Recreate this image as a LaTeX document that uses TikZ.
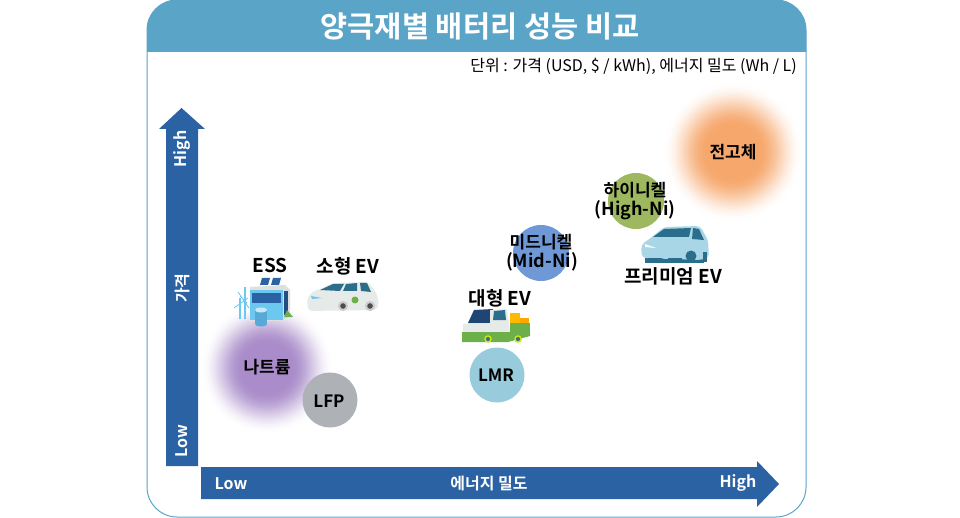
\documentclass[tikz,border=0pt]{standalone}
\usepackage{fontspec}
\setmainfont{Noto Sans CJK KR}[BoldFont={Noto Sans CJK KR Bold}]
\definecolor{headblue}{HTML}{5AA4C8}
\definecolor{arrowblue}{HTML}{2B62A4}
\definecolor{natrium}{HTML}{A98CC9}
\definecolor{solidst}{HTML}{F6A76C}
\definecolor{highni}{HTML}{9DB85E}
\definecolor{midni}{HTML}{6F98D6}
\definecolor{lmrblue}{HTML}{98CBDC}
\definecolor{lfpgray}{HTML}{AEB1B6}
\definecolor{glass}{HTML}{2B6E8C}
\definecolor{skyblue}{HTML}{6CC8EE}
\definecolor{paleblue}{HTML}{A9D6E6}
\definecolor{cargreen}{HTML}{6DB04A}
\definecolor{carwhite}{HTML}{E6EAE8}
\newcommand{\glowdisc}[4]{%
    \foreach \r in {0,...,30} {
        \pgfmathsetmacro{\mixval}{100*min(1,\r/19)*min(1,\r/19)*(3-2*min(1,\r/19))}
        \fill[#3!\mixval!white] (#1, #2) circle ({#4*(30-\r)/30*1pt + 1pt});
    }
}
\tikzset{
    label text/.style={font=\bfseries\fontsize{17}{20}\selectfont, text=black, inner sep=0pt, align=center},
    use text/.style={font=\bfseries\fontsize{19}{22}\selectfont, text=black, inner sep=0pt, align=center},
    axis text/.style={font=\bfseries\fontsize{16}{18}\selectfont, text=white, inner sep=0pt},
    blob/.style={circle, inner sep=0pt, minimum size=#1},
    wheel/.style={circle, fill=#1, inner sep=0pt, minimum size=11pt},
}
\begin{document}
\begin{tikzpicture}[x=1pt, y=-1pt]
    \useasboundingbox (0, 0) rectangle (960, 518);

    % frame and title
    \draw[headblue, line width=1pt, rounded corners=30pt, fill=white] (147, 0) rectangle (806, 517);
    \fill[headblue] (147, 52) [rounded corners=30pt] -- (147, 0) -- (806, 0) [sharp corners] -- (806, 52) -- cycle;
    \node[font=\bfseries\fontsize{29.5}{32}\selectfont, text=white, inner sep=0pt] (title) at (480, 26) {양극재별 배터리 성능 비교};
    \node[font=\fontsize{16}{18}\selectfont, inner sep=0pt, anchor=east] (unit) at (797, 66) {단위 : 가격 (USD, \$ / kWh), 에너지 밀도 (Wh / L)};

    % axes
    \fill[arrowblue] (166, 466) -- (166, 129) -- (159, 129) -- (181.5, 108) -- (205, 129) -- (198, 129) -- (198, 466) -- cycle;
    \fill[arrowblue] (201, 467) -- (757, 467) -- (757, 461) -- (779, 484) -- (757, 507) -- (757, 499) -- (201, 499) -- cycle;
    \node[axis text, rotate=90] (yhigh) at (182, 149) {High};
    \node[axis text, rotate=90] (yname) at (182, 288) {가격};
    \node[axis text, rotate=90] (ylow) at (182, 441) {Low};
    \node[axis text] (xlow) at (231, 484) {Low};
    \node[axis text] (xname) at (489, 484) {에너지 밀도};
    \node[axis text] (xhigh) at (738, 483) {High};

    % materials
    \glowdisc{267}{368}{natrium}{66}
    \glowdisc{733}{152}{solidst}{70}
    \node[blob=55pt, fill=lfpgray] (lfp) at (330, 400) {};
    \node[blob=55pt, fill=lmrblue] (lmr) at (497, 375) {};
    \node[blob=56pt, fill=midni] (mid) at (541, 253) {};
    \node[blob=56pt, fill=highni] (high) at (636, 201) {};
    \node[label text] (na) at (267, 367) {나트륨};
    \node[label text] (solid) at (733, 152) {전고체};
    \node[label text] at (329, 401) {LFP};
    \node[label text] at (496, 375) {LMR};
    \node[label text] (midname) at (541, 242) {미드니켈};
    \node[label text, font=\bfseries\fontsize{18}{21}\selectfont] (midalt) at (542, 262) {(Mid-Ni)};
    \node[label text] (highname) at (635, 190) {하이니켈};
    \node[label text, font=\bfseries\fontsize{18}{21}\selectfont] (highalt) at (635, 210) {(High-Ni)};

    % uses
    \node[use text] (ess) at (270, 265) {ESS};
    \node[use text] (small) at (348, 266) {소형 EV};
    \node[use text] (large) at (500, 298) {대형 EV};
    \node[use text] (premium) at (673, 276) {프리미엄 EV};

    % ess icon
    \fill[gray!25] (250, 287) -- (285, 285) -- (290, 290) -- (290, 315) -- (283, 321) -- (250, 321) -- cycle;
    \fill[skyblue] (250, 290) rectangle (283, 320);
    \fill[arrowblue] (252, 293) rectangle (281, 303);
    \fill[arrowblue!80!black] (284, 291) rectangle (288, 315);
    \fill[arrowblue] (262, 278) -- (270, 278) -- (268, 285) -- (260, 285) -- cycle;
    \fill[arrowblue] (273, 278) -- (281, 278) -- (279, 285) -- (271, 285) -- cycle;
    \draw[skyblue, line width=1.4pt] (245, 287) -- (245, 319) (240, 298) -- (240, 319);
    \draw[skyblue, line width=.8pt] (234, 308) -- (248, 298) (240, 296) -- (247, 303) (238, 292) -- (249, 308);
    \fill[skyblue!70!arrowblue] (255, 310) rectangle (267, 324);
    \fill[skyblue!40!white] (261, 310) ellipse (6pt and 2.5pt);
    \fill[skyblue!70!arrowblue] (261, 324) ellipse (6pt and 2.5pt);
    \fill[cargreen] (284, 317) -- (287, 310) -- (293, 317) -- cycle;

    % small ev icon
    \fill[carwhite, rounded corners=4pt] (308, 311) -- (307, 298) -- (313, 291) -- (319, 290) -- (332, 283) -- (368, 282) -- (376, 292) -- (379, 302) -- (377, 310) -- cycle;
    \fill[glass] (320, 290) -- (333, 284) -- (344, 284) -- (340, 291) -- cycle;
    \fill[glass] (346, 284) -- (357, 283) -- (357, 291) -- (343, 291) -- cycle;
    \fill[glass] (360, 283) -- (367, 283) -- (371, 292) -- (361, 291) -- cycle;
    \fill[skyblue] (311, 296) -- (322, 298) -- (312, 299) -- cycle;
    \fill[cargreen] (355, 300) circle (3.5pt);
    \node[wheel=black!70, draw=gray!40, line width=2pt, minimum size=8pt] (sw1) at (343, 306) {};
    \node[wheel=black!70, draw=gray!40, line width=2pt, minimum size=8pt] (sw2) at (370, 306) {};

    % truck icon
    \fill[arrowblue!70!black] (468, 323) -- (474, 310) -- (493, 309) -- (493, 323) -- cycle;
    \fill[carwhite] (490, 310) -- (507, 309) -- (510, 332) -- (490, 332) -- cycle;
    \fill[glass] (494, 311) -- (505, 310) -- (506, 320) -- (493, 320) -- cycle;
    \fill[orange!55!yellow] (510, 313) rectangle (520, 323);
    \fill[orange!70!yellow] (520, 318) rectangle (529, 323);
    \fill[carwhite] (463, 324) rectangle (490, 333);
    \fill[cargreen] (510, 323) rectangle (530, 335);
    \fill[cargreen] (462, 332) -- (530, 332) -- (530, 336) -- (508, 342) -- (462, 342) -- cycle;
    \node[wheel=glass, draw=yellow!80!green, line width=1.5pt, minimum size=6pt] (tw1) at (488, 339) {};
    \node[wheel=glass, draw=yellow!80!green, line width=1.5pt, minimum size=6pt] (tw2) at (518, 339) {};

    % premium car icon
    \fill[glass] (645, 255) rectangle (704, 263);
    \fill[paleblue, rounded corners=4pt] (642, 258) -- (641, 245) -- (652, 237) -- (664, 227) -- (700, 226) -- (708, 240) -- (709, 258) -- (700, 260) -- cycle;
    \fill[glass] (653, 237) -- (664, 229) -- (691, 228) -- (689, 237) -- cycle;
    \fill[glass] (693, 228) -- (699, 229) -- (704, 240) -- (692, 239) -- cycle;
    \fill[white] (645, 244) -- (656, 248) -- (645, 247) -- cycle;
    \fill[glass] (648, 258) rectangle (662, 262);
    \fill[glass] (668, 258) rectangle (682, 263);
    \node[wheel=glass, minimum size=11pt] (pw1) at (691, 256) {};
    \fill[glass] (703, 252) rectangle (707, 262);
\end{tikzpicture}
\end{document}
